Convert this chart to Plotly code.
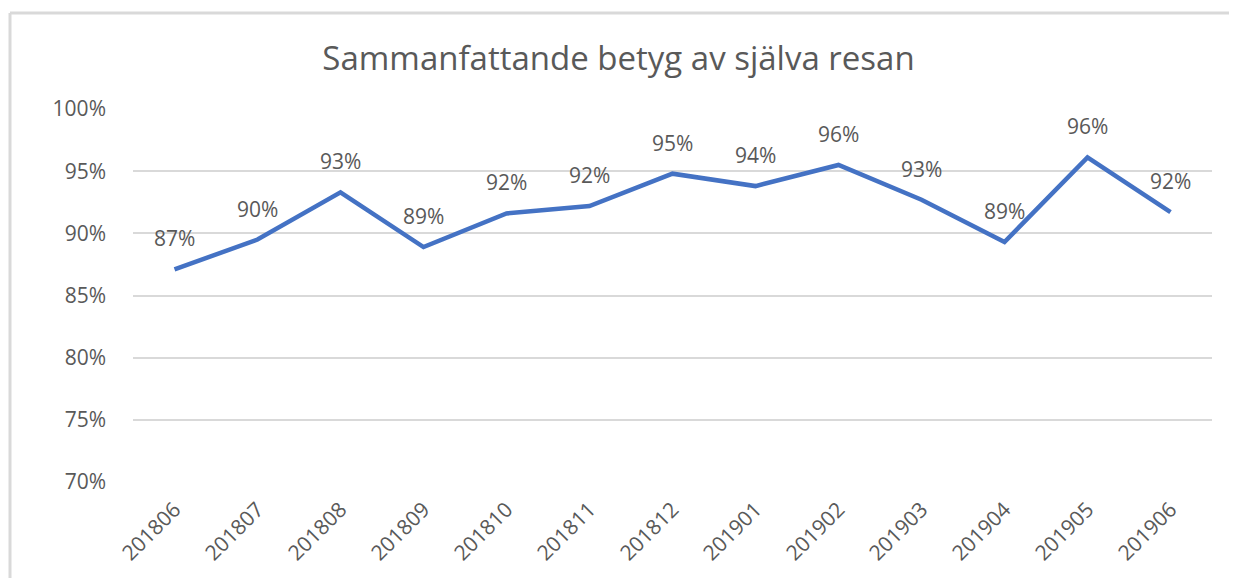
import plotly.graph_objects as go

categories = ["201806", "201807", "201808", "201809", "201810", "201811", "201812",
              "201901", "201902", "201903", "201904", "201905", "201906"]
values = [0.871, 0.895, 0.933, 0.889, 0.916, 0.922, 0.948, 0.938, 0.955, 0.927, 0.893, 0.961, 0.917]
title_text = "Sammanfattande betyg av själva resan"
ytick_vals = [0.70, 0.75, 0.80, 0.85, 0.90, 0.95, 1.00]

GRAY = "#595959"
FONT = "Open Sans"

W, H = 1221, 570
L, R, T, B = 125, 17, 101, 96

fig = go.Figure()
fig.add_trace(go.Scatter(
    x=list(range(len(categories))), y=values, mode="lines",
    line=dict(color="#4472C4", width=4.5),
    hoverinfo="skip", showlegend=False,
))

for i, v in enumerate(values):
    fig.add_annotation(x=i, y=v, xref="x", yref="y", text=f"{v:.0%}", showarrow=False,
                       yshift=31, font=dict(family=FONT, size=21, color=GRAY))

pw = W - L - R
ph = H - T - B
bx = -(L - 2) / pw          # left frame line (paper coords)
by = 1 + (T - 5) / ph       # top frame line (paper coords)
fig.update_layout(
    width=W, height=H,
    margin=dict(l=L, r=R, t=T, b=B),
    paper_bgcolor="white", plot_bgcolor="white",
    title=dict(text=title_text, x=0.5, xanchor="center", y=1 - 50 / H, yanchor="middle",
               yref="container", font=dict(family=FONT, size=33, color=GRAY)),
    xaxis=dict(range=[-0.5, len(categories) - 0.5],
               tickmode="array", tickvals=list(range(len(categories))), ticktext=categories,
               showgrid=False, showline=False, zeroline=False,
               tickangle=-45, ticklabelstandoff=10,
               tickfont=dict(family=FONT, size=21, color=GRAY)),
    yaxis=dict(range=[0.70, 1.00], tickvals=ytick_vals, tickformat=".0%",
               showgrid=True, gridcolor="#D9D9D9", gridwidth=1.5,
               zeroline=False, showline=False, ticklabelstandoff=26,
               tickfont=dict(family=FONT, size=21, color=GRAY)),
    shapes=[
        dict(type="line", xref="paper", yref="paper", x0=bx, x1=1 + R / pw, y0=by, y1=by,
             line=dict(color="#D9D9D9", width=3), layer="below"),
        dict(type="line", xref="paper", yref="paper", x0=bx, x1=bx, y0=by, y1=-B / ph,
             line=dict(color="#D9D9D9", width=3), layer="below"),
    ],
)

fig.write_html("out.html")
